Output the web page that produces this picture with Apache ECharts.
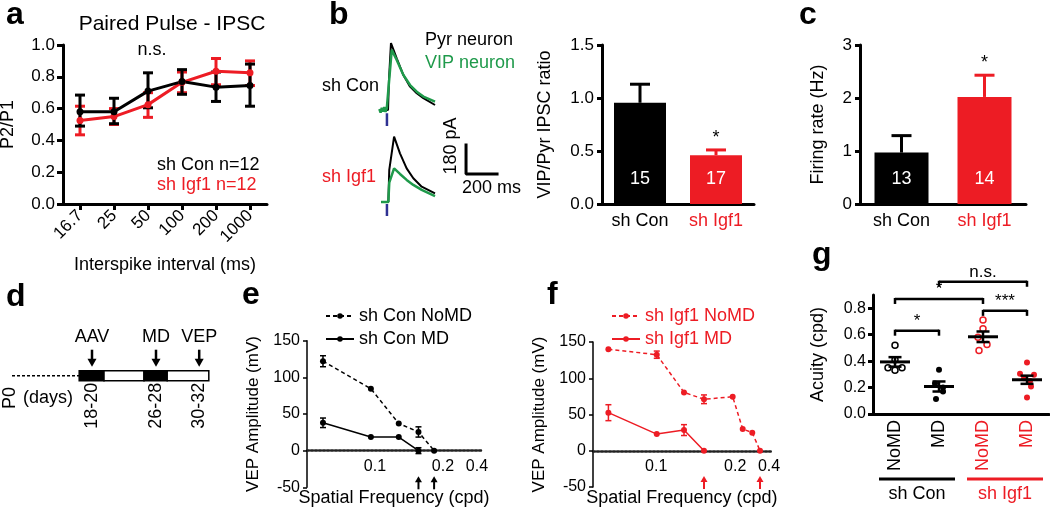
<!DOCTYPE html>
<html>
<head>
<meta charset="utf-8">
<script src="https://cdn.jsdelivr.net/npm/echarts@6/dist/echarts.min.js"></script>
<style>
  html, body { margin: 0; padding: 0; background: #fff; }
  #chart { width: 1050px; height: 510px; }
</style>
</head>
<body>
<div id="chart"></div>
<script>
const FONT = '"Liberation Sans", Arial, Helvetica, sans-serif';
const BLACK = '#000';
const RED = '#ed1c24';
const GREEN = '#1f9a4b';
const BLUE = '#2e3192';

// a: paired pulse ratio
const ppCats = ['16.7', '25', '50', '100', '200', '1000'];
const ppCon = [0.58, 0.58, 0.71, 0.77, 0.735, 0.745];
const ppConLo = [0.49, 0.505, 0.605, 0.69, 0.645, 0.615];
const ppConHi = [0.685, 0.665, 0.825, 0.845, 0.83, 0.88];
const ppIgf = [0.525, 0.55, 0.625, 0.765, 0.835, 0.825];
const ppIgfLo = [0.435, 0.50, 0.545, 0.70, 0.75, 0.745];
const ppIgfHi = [0.615, 0.60, 0.70, 0.83, 0.915, 0.90];

// b: example IPSC traces, [ms, pA]
const conPyr = [[32, 0], [84, 0], [90, 186], [103, 416], [140, 321], [183, 217], [226, 145], [269, 104], [312, 73], [387, 31]];
const conVip = [[28, 6], [36, -16], [44, 14], [52, -10], [60, 18], [68, -12], [76, 10], [84, 0], [90, 170], [108, 373], [140, 311], [183, 217], [226, 155], [269, 114], [312, 83], [387, 52]];
const igfPyr = [[39, 0], [86, 0], [92, 200], [123, 406], [161, 302], [204, 209], [247, 147], [301, 95], [387, 54]];
const igfVip = [[39, 0], [86, 0], [92, 120], [123, 209], [161, 174], [204, 137], [247, 106], [301, 75], [387, 37]];
const stimCon = [[77, -20], [77, -100]];
const stimIgf = [[77, -12], [77, -87]];
const scaleBar = [[587, 354], [587, 174], [787, 174]];

// b, c: group bars
const groups = ['sh Con', 'sh Igf1'];
const groupColor = [BLACK, RED];
const ratioMean = [0.955, 0.46];
const ratioSem = [0.175, 0.05];
const ratioN = ['15', '17'];
const ratioSig = ['', '*'];
const rateMean = [0.97, 2.02];
const rateSem = [0.32, 0.41];
const rateN = ['13', '14'];
const rateSig = ['', '*'];

// d: timeline (schematic days)
const dStart = 9;
const dSegs = [[17.4, 20.5, 1], [20.5, 25.5, 0], [25.5, 28.4, 1], [28.4, 33.6, 0]];
const dEvents = ['AAV', 'MD', 'VEP'];
const dEventDay = [19, 27, 32.4];
const dEventLabel = ['18-20', '26-28', '30-32'];

// e: sh Con VEP
const sfConNoMD = [0.0235, 0.094, 0.135, 0.164, 0.187];
const conNoMD = [122, 84.5, 37, 25.5, 0];
const conNoMDErr = [7.5, 0, 0, 7, 0];
const sfConMD = [0.0235, 0.094, 0.135, 0.164];
const conMD = [38, 18.5, 18.5, 0];
const conMDErr = [6.5, 0, 0, 4];
const arrowsE = [0.164, 0.187];
const sfTicksE = [0.1, 0.2, 0.25];

// f: sh Igf1 VEP
const sfIgfNoMD = [0.0395, 0.1007, 0.1352, 0.1605, 0.1968, 0.2095, 0.2216, 0.2314];
const igfNoMD = [140, 132.5, 80.5, 71, 74.5, 30, 25, 0];
const igfNoMDErr = [0, 5, 0, 6, 0, 0, 0, 0];
const sfIgfMD = [0.0395, 0.1007, 0.1352, 0.1605];
const igfMD = [52.5, 23, 28.5, 0];
const igfMDErr = [11, 0, 7.5, 0];
const arrowsF = [0.1605, 0.2314];
const sfTicksF = [0.1, 0.2, 0.2428];
const sfTickText = ['0.1', '0.2', '0.4'];

// g: acuity
const gCats = ['NoMD', 'MD', 'NoMD', 'MD'];
const gColor = [BLACK, BLACK, RED, RED];
const gFilled = [false, true, false, true];
const acuityPts = [
  [0.52, 0.41, 0.35, 0.33, 0.35],
  [0.335, 0.23, 0.20, 0.17, 0.114],
  [0.71, 0.645, 0.58, 0.526, 0.48],
  [0.39, 0.305, 0.297, 0.27, 0.25, 0.208, 0.124]
];
const acuityMean = [0.394, 0.208, 0.584, 0.259];
const acuitySem = [0.036, 0.038, 0.04, 0.031];
const gBrackets = [[0, 1, 0.63], [0, 2, 0.87], [2, 3, 0.78], [1, 3, 1.0]];
const gBracketText = ['*', '*', '***', 'n.s.'];
const gGroups = [[0, 1], [2, 3]];
const gGroupText = ['sh Con', 'sh Igf1'];

// horizontal spread of the dots (px)
const gJitter = [[0, 0, -7, 0, 7], [0, -4, 4, 4, -3], [0, 0, -5, 4, -4], [0, -7, 7, -3, 3, 4, 0]];

function ts(size, color) {
  return { fontFamily: FONT, fontSize: size, color: color || BLACK };
}
function axLine(w) {
  return { show: true, onZero: false, lineStyle: { color: BLACK, width: w } };
}
function hidden(gi, min, max) {
  return { gridIndex: gi, type: 'value', min: min, max: max, show: false };
}
function nearestText(v, ticks) {
  let best = 0;
  ticks.forEach((t, i) => { if (Math.abs(t - v) < Math.abs(ticks[best] - v)) best = i; });
  return sfTickText[best];
}
function seg(x1, y1, x2, y2, color, w) {
  return { type: 'line', shape: { x1: x1, y1: y1, x2: x2, y2: y2 }, style: { stroke: color, lineWidth: w } };
}
function text(t, x, y, o) {
  o = o || {};
  return {
    type: 'text', x: x, y: y, rotation: o.rot || 0, silent: true,
    style: {
      text: t, fill: o.color || BLACK, fontSize: o.size || 18, fontFamily: FONT,
      fontWeight: o.bold ? 'bold' : 'normal', align: o.align || 'left', verticalAlign: o.va || 'middle'
    }
  };
}

function errBars(color, cap, w) {
  return function (params, api) {
    const hi = api.coord([api.value(0), api.value(2)]);
    const lo = api.coord([api.value(0), api.value(1)]);
    return {
      type: 'group', children: [
        seg(hi[0], hi[1], lo[0], lo[1], color, w),
        seg(hi[0] - cap / 2, hi[1], hi[0] + cap / 2, hi[1], color, w),
        seg(lo[0] - cap / 2, lo[1], lo[0] + cap / 2, lo[1], color, w)
      ]
    };
  };
}
function barErr(sig) {
  return function (params, api) {
    const i = params.dataIndex;
    const base = api.coord([api.value(0), api.value(1)]);
    const top = api.coord([api.value(0), api.value(2)]);
    const c = groupColor[i];
    const kids = [seg(base[0], base[1], top[0], top[1], c, 3), seg(top[0] - 10, top[1], top[0] + 10, top[1], c, 3)];
    if (sig[i]) kids.push(text(sig[i], top[0], top[1] - 3, { align: 'center', va: 'bottom', size: 18 }));
    return { type: 'group', children: kids };
  };
}
function arrows(color) {
  return function (params, api) {
    const b = api.coord([api.value(0), -50]);
    const x = b[0], y = b[1] + 2 - 13;
    return {
      type: 'group', children: [
        { type: 'polygon', shape: { points: [[x, y], [x - 3.5, y + 6], [x + 3.5, y + 6]] }, style: { fill: color } },
        seg(x, y + 5, x, y + 13, color, 2)
      ]
    };
  };
}
function pairs(xs, ys) { return xs.map((x, i) => [x, ys[i]]); }
function errData(xs, ys, es) {
  return xs.map((x, i) => [x, ys[i] - es[i], ys[i] + es[i]]).filter((d, i) => es[i] > 0);
}
function vepLine(name, xi, xs, ys, color, dashed) {
  return {
    name: name, type: 'line', xAxisIndex: xi, yAxisIndex: xi, data: pairs(xs, ys),
    symbol: 'circle', symbolSize: 6, itemStyle: { color: color },
    lineStyle: { color: color, width: 1.5, type: dashed ? [4, 3] : 'solid' }
  };
}
// x axis drawn along y = 0 (offset is the distance from grid bottom to zero, px)
function vepX(gi, min, max, ticks, off) {
  return {
    gridIndex: gi, type: 'value', min: min, max: max, splitLine: { show: false },
    position: 'bottom', offset: off,
    axisLine: { show: true, onZero: false, lineStyle: { color: '#222', width: 2.5, type: [2, 2] } },
    axisTick: { show: false },
    axisLabel: { customValues: ticks, formatter: v => nearestText(v, ticks), margin: 8, ...ts(16) },
    name: 'Spatial Frequency (cpd)', nameLocation: 'middle', nameGap: 38, nameTextStyle: ts(18)
  };
}
function vepY(gi) {
  return {
    gridIndex: gi, type: 'value', min: -50, max: 150, interval: 50, splitLine: { show: false },
    axisLine: axLine(1.5), axisTick: { show: true, length: 4, lineStyle: { color: BLACK, width: 1.5 } },
    axisLabel: { margin: 7, ...ts(16) },
    name: 'VEP Amplitude (mV)', nameLocation: 'middle', nameGap: 45, nameTextStyle: ts(17)
  };
}
function barX(gi) {
  return {
    gridIndex: gi, type: 'category', data: groups, axisLine: axLine(3), axisTick: { show: false },
    axisLabel: { margin: 8, fontFamily: FONT, fontSize: 18, color: (v, i) => groupColor[i] }
  };
}
function barY(gi, max, step, dec, name, gap) {
  return {
    gridIndex: gi, type: 'value', min: 0, max: max, interval: step, splitLine: { show: false },
    axisLine: axLine(3), axisTick: { show: true, length: 5, lineStyle: { color: BLACK, width: 3 } },
    axisLabel: { margin: 8, formatter: v => v.toFixed(dec), ...ts(17) },
    name: name, nameLocation: 'middle', nameGap: gap, nameTextStyle: ts(18)
  };
}
function barSeries(gi, means, ns, width) {
  return {
    type: 'bar', xAxisIndex: gi, yAxisIndex: gi, barWidth: width,
    data: means.map((v, i) => ({ value: v, itemStyle: { color: groupColor[i] } })),
    label: { show: true, position: 'insideBottom', distance: 16, formatter: p => ns[p.dataIndex], color: '#fff', fontSize: 18, fontFamily: FONT }
  };
}

const gPts = [];
acuityPts.forEach((arr, c) => arr.forEach((v, k) => gPts.push([c, v, k])));

const option = {
  animation: false,
  backgroundColor: '#fff',
  textStyle: { fontFamily: FONT },
  grid: [
    { left: 63, top: 45, width: 204, height: 159 },
    { left: 375, top: 37.5, width: 125, height: 88.6 },
    { left: 375, top: 129.5, width: 125, height: 88.6 },
    { left: 602, top: 45, width: 152, height: 159 },
    { left: 860, top: 45, width: 166, height: 159 },
    { left: 12, top: 370.7, width: 200, height: 10 },
    { left: 307, top: 340.7, width: 174, height: 146.6 },
    { left: 593, top: 342, width: 177.75, height: 145 },
    { left: 873, top: 295, width: 176, height: 119 }
  ].map(g => Object.assign({ outerBoundsMode: 'none' }, g)),
  legend: [
    {
      data: ['sh Con NoMD', 'sh Con MD'], left: 320, top: 302, orient: 'vertical', selectedMode: false,
      itemWidth: 28, itemHeight: 7, itemGap: 5, textStyle: ts(18)
    },
    {
      data: ['sh Igf1 NoMD', 'sh Igf1 MD'], left: 606, top: 302, orient: 'vertical', selectedMode: false,
      itemWidth: 28, itemHeight: 7, itemGap: 5, textStyle: ts(18, RED)
    }
  ],
  xAxis: [
    {
      gridIndex: 0, type: 'category', data: ppCats, boundaryGap: true, axisLine: axLine(3),
      axisTick: { show: true, alignWithLabel: true, length: 6, lineStyle: { color: BLACK, width: 3 } },
      axisLabel: { rotate: 45, margin: 9, ...ts(17) },
      name: 'Interspike interval (ms)', nameLocation: 'middle', nameGap: 52, nameTextStyle: ts(18)
    },
    hidden(1, 0, 806),
    hidden(2, 0, 806),
    barX(3),
    barX(4),
    hidden(5, dStart, 34),
    vepX(6, 0, 0.256, sfTicksE, -36.6),
    vepX(7, 0.02, 0.245, sfTicksF, -36.25),
    {
      gridIndex: 8, type: 'category', data: gCats, axisLine: axLine(3), axisTick: { show: false },
      axisLabel: { rotate: 90, margin: 6, fontFamily: FONT, fontSize: 18, color: (v, i) => gColor[i] }
    }
  ],
  yAxis: [
    {
      gridIndex: 0, type: 'value', min: 0, max: 1, interval: 0.2, splitLine: { show: false },
      axisLine: axLine(3), axisTick: { show: true, length: 6, lineStyle: { color: BLACK, width: 3 } },
      axisLabel: { margin: 8, formatter: v => v.toFixed(1), ...ts(17) },
      name: 'P2/P1', nameLocation: 'middle', nameGap: 46, nameTextStyle: ts(18)
    },
    hidden(1, -100, 450),
    hidden(2, -100, 450),
    barY(3, 1.5, 0.5, 1, 'VIP/Pyr IPSC ratio', 48),
    barY(4, 3, 1, 0, 'Firing rate (Hz)', 33),
    hidden(5, 0, 1),
    vepY(6),
    vepY(7),
    {
      gridIndex: 8, type: 'value', min: 0, max: 0.9, splitLine: { show: false },
      axisLine: axLine(3),
      axisTick: { show: true, length: 5, customValues: [0, 0.2, 0.4, 0.6, 0.8], lineStyle: { color: BLACK, width: 3 } },
      axisLabel: { margin: 7, customValues: [0, 0.2, 0.4, 0.6, 0.8], formatter: v => v.toFixed(1), ...ts(16) },
      name: 'Acuity (cpd)', nameLocation: 'middle', nameGap: 46, nameTextStyle: ts(18)
    }
  ],
  series: [
    // a
    { type: 'custom', xAxisIndex: 0, yAxisIndex: 0, data: ppCats.map((c, i) => [i, ppIgfLo[i], ppIgfHi[i]]), renderItem: errBars(RED, 10, 3) },
    { name: 'sh Igf1', type: 'line', xAxisIndex: 0, yAxisIndex: 0, data: ppIgf, symbol: 'circle', symbolSize: 7, itemStyle: { color: RED }, lineStyle: { color: RED, width: 3 } },
    { type: 'custom', xAxisIndex: 0, yAxisIndex: 0, data: ppCats.map((c, i) => [i, ppConLo[i], ppConHi[i]]), renderItem: errBars(BLACK, 10, 3) },
    { name: 'sh Con', type: 'line', xAxisIndex: 0, yAxisIndex: 0, data: ppCon, symbol: 'circle', symbolSize: 7, itemStyle: { color: BLACK }, lineStyle: { color: BLACK, width: 3 } },
    // b traces
    { type: 'line', xAxisIndex: 1, yAxisIndex: 1, data: conPyr, showSymbol: false, lineStyle: { color: BLACK, width: 2 } },
    { type: 'line', xAxisIndex: 1, yAxisIndex: 1, data: conVip, showSymbol: false, lineStyle: { color: GREEN, width: 2.5 } },
    { type: 'line', xAxisIndex: 1, yAxisIndex: 1, data: stimCon, showSymbol: false, lineStyle: { color: BLUE, width: 2.5 } },
    { type: 'line', xAxisIndex: 2, yAxisIndex: 2, data: igfPyr, showSymbol: false, lineStyle: { color: BLACK, width: 2 } },
    { type: 'line', xAxisIndex: 2, yAxisIndex: 2, data: igfVip, showSymbol: false, lineStyle: { color: GREEN, width: 2.5 } },
    { type: 'line', xAxisIndex: 2, yAxisIndex: 2, data: stimIgf, showSymbol: false, lineStyle: { color: BLUE, width: 2.5 } },
    { type: 'line', xAxisIndex: 2, yAxisIndex: 2, data: scaleBar, showSymbol: false, lineStyle: { color: BLACK, width: 3, cap: 'square' } },
    // b bars
    barSeries(3, ratioMean, ratioN, 52),
    { type: 'custom', xAxisIndex: 3, yAxisIndex: 3, data: ratioMean.map((m, i) => [i, m, m + ratioSem[i]]), renderItem: barErr(ratioSig) },
    // c
    barSeries(4, rateMean, rateN, 54),
    { type: 'custom', xAxisIndex: 4, yAxisIndex: 4, data: rateMean.map((m, i) => [i, m, m + rateSem[i]]), renderItem: barErr(rateSig) },
    // d
    { type: 'line', xAxisIndex: 5, yAxisIndex: 5, data: [[dStart, 0.5], [dSegs[0][0], 0.5]], showSymbol: false, lineStyle: { color: BLACK, width: 1.5, type: [3, 2] } },
    {
      type: 'custom', xAxisIndex: 5, yAxisIndex: 5, data: dSegs, encode: { x: [0, 1] },
      renderItem: function (params, api) {
        const a = api.coord([api.value(0), 1]);
        const b = api.coord([api.value(1), 0]);
        return { type: 'rect', shape: { x: a[0], y: a[1], width: b[0] - a[0], height: b[1] - a[1] }, style: { fill: api.value(2) ? BLACK : '#fff', stroke: BLACK, lineWidth: 1.5 } };
      }
    },
    {
      type: 'custom', xAxisIndex: 5, yAxisIndex: 5, data: dEventDay.map((d, i) => [d, 0]),
      renderItem: function (params, api) {
        const i = params.dataIndex;
        const top = api.coord([api.value(0), 1]);
        const bot = api.coord([api.value(0), 0]);
        const x = top[0], tip = top[1] - 4;
        return {
          type: 'group', children: [
            seg(x, tip - 17, x, tip - 6, BLACK, 2.5),
            { type: 'polygon', shape: { points: [[x - 4.5, tip - 8], [x + 4.5, tip - 8], [x, tip]] }, style: { fill: BLACK } },
            text(dEvents[i], x, tip - 30, { align: 'center' }),
            text(dEventLabel[i], x, bot[1] + 2, { align: 'right', rot: Math.PI / 2 })
          ]
        };
      }
    },
    // e
    vepLine('sh Con NoMD', 6, sfConNoMD, conNoMD, BLACK, true),
    vepLine('sh Con MD', 6, sfConMD, conMD, BLACK, false),
    { type: 'custom', xAxisIndex: 6, yAxisIndex: 6, data: errData(sfConNoMD, conNoMD, conNoMDErr).concat(errData(sfConMD, conMD, conMDErr)), renderItem: errBars(BLACK, 6, 1.5) },
    { type: 'custom', xAxisIndex: 6, yAxisIndex: 6, data: arrowsE.map(x => [x, 0]), renderItem: arrows(BLACK) },
    // f
    vepLine('sh Igf1 NoMD', 7, sfIgfNoMD, igfNoMD, RED, true),
    vepLine('sh Igf1 MD', 7, sfIgfMD, igfMD, RED, false),
    { type: 'custom', xAxisIndex: 7, yAxisIndex: 7, data: errData(sfIgfNoMD, igfNoMD, igfNoMDErr).concat(errData(sfIgfMD, igfMD, igfMDErr)), renderItem: errBars(RED, 6, 1.5) },
    { type: 'custom', xAxisIndex: 7, yAxisIndex: 7, data: arrowsF.map(x => [x, 0]), renderItem: arrows(RED) },
    // g
    {
      type: 'custom', xAxisIndex: 8, yAxisIndex: 8, data: gPts,
      renderItem: function (params, api) {
        const c = api.value(0), k = api.value(2);
        const p = api.coord([c, api.value(1)]);
        const st = gFilled[c] ? { fill: gColor[c] } : { fill: '#fff', stroke: gColor[c], lineWidth: 1.5 };
        return { type: 'circle', shape: { cx: p[0] + gJitter[c][k], cy: p[1], r: 3 }, style: st };
      }
    },
    {
      type: 'custom', xAxisIndex: 8, yAxisIndex: 8, data: acuityMean.map((m, i) => [i, m - acuitySem[i], m + acuitySem[i]]),
      renderItem: function (params, api) {
        const i = params.dataIndex;
        const m = api.coord([i, acuityMean[i]]);
        const hi = api.coord([i, api.value(2)]);
        const lo = api.coord([i, api.value(1)]);
        return {
          type: 'group', children: [
            seg(m[0] - 15, m[1], m[0] + 15, m[1], BLACK, 3),
            seg(hi[0], hi[1], lo[0], lo[1], BLACK, 2.5),
            seg(hi[0] - 6.5, hi[1], hi[0] + 6.5, hi[1], BLACK, 2.5),
            seg(lo[0] - 6.5, lo[1], lo[0] + 6.5, lo[1], BLACK, 2.5)
          ]
        };
      }
    },
    {
      type: 'custom', xAxisIndex: 8, yAxisIndex: 8, data: gBrackets,
      renderItem: function (params, api) {
        const a = api.coord([api.value(0), api.value(2)]);
        const b = api.coord([api.value(1), api.value(2)]);
        return {
          type: 'group', children: [
            seg(a[0], a[1], b[0], b[1], BLACK, 2.5),
            seg(a[0], a[1] - 1, a[0], a[1] + 5, BLACK, 2.5),
            seg(b[0], b[1] - 1, b[0], b[1] + 5, BLACK, 2.5),
            text(gBracketText[params.dataIndex], (a[0] + b[0]) / 2, a[1] - 1, { align: 'center', va: 'bottom', size: 17 })
          ]
        };
      }
    },
    {
      type: 'custom', xAxisIndex: 8, yAxisIndex: 8, data: gGroups,
      renderItem: function (params, api) {
        const i = params.dataIndex;
        const a = api.coord([api.value(0), 0]);
        const b = api.coord([api.value(1), 0]);
        const col = i === 0 ? BLACK : RED;
        const y = a[1] + 65;
        return {
          type: 'group', children: [
            seg(a[0] - 16, y, b[0] + 16, y, col, 3),
            text(gGroupText[i], (a[0] + b[0]) / 2, y + 15, { align: 'center', color: col })
          ]
        };
      }
    }
  ],
  graphic: [
    text('a', 6, 15, { size: 32, bold: true }),
    text('b', 329, 15, { size: 32, bold: true }),
    text('c', 799, 15, { size: 32, bold: true }),
    text('d', 6, 297, { size: 32, bold: true }),
    text('e', 242, 295, { size: 32, bold: true }),
    text('f', 547, 295, { size: 32, bold: true }),
    text('g', 812, 255, { size: 32, bold: true }),
    text('Paired Pulse - IPSC', 172, 24, { size: 21, align: 'center' }),
    text('n.s.', 152, 50, { align: 'center' }),
    text('sh Con n=12', 157, 165),
    text('sh Igf1 n=12', 157, 185, { color: RED }),
    text('Pyr neuron', 425, 40),
    text('VIP neuron', 425, 63, { color: GREEN }),
    text('sh Con', 322, 86),
    text('sh Igf1', 322, 177, { color: RED }),
    text('180 pA', 451, 146, { align: 'center', rot: Math.PI / 2 }),
    text('200 ms', 462, 188),
    text('P0', 10, 398, { align: 'center', rot: Math.PI / 2 }),
    text('(days)', 23, 398)
  ]
};

const chart = echarts.init(document.getElementById('chart'));
chart.setOption(option);
</script>
</body>
</html>
